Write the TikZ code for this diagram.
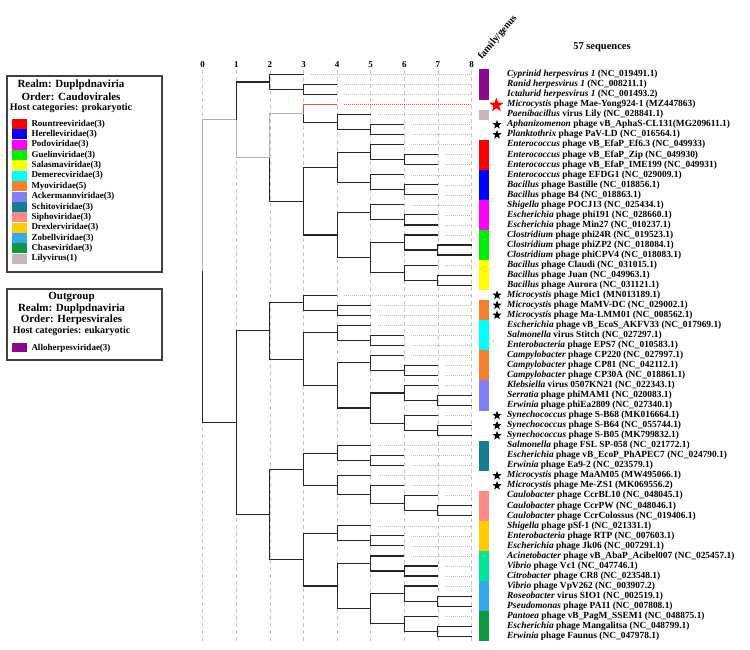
\documentclass[tikz,border=0pt]{standalone}
\usepackage{fontspec}
\setmainfont{Liberation Serif}
\usetikzlibrary{shapes.geometric}

\definecolor{herpes}{HTML}{8B0A8B}
\definecolor{rount}{HTML}{FF0000}
\definecolor{herelle}{HTML}{0000FF}
\definecolor{podo}{HTML}{FF00FF}
\definecolor{guelin}{HTML}{00EE00}
\definecolor{salasma}{HTML}{FFFF00}
\definecolor{demerec}{HTML}{00FFFF}
\definecolor{myo}{HTML}{F57F2A}
\definecolor{ackermann}{HTML}{8080FF}
\definecolor{schito}{HTML}{167E92}
\definecolor{sipho}{HTML}{FF8888}
\definecolor{drexler}{HTML}{FFCC00}
\definecolor{zobell}{HTML}{33AAEE}
\definecolor{chase}{HTML}{109A40}
\definecolor{lily}{HTML}{C9B7B7}
\definecolor{mint}{HTML}{00E39A}
\definecolor{pathgray}{HTML}{B0B0B0}
\definecolor{pathred}{HTML}{F04A3A}

\newcommand{\fsize}[1]{\fontsize{#1}{#1}\selectfont\bfseries}

\begin{document}
\begin{tikzpicture}[x=1pt,y=-1pt,
    branch/.style={black!85,line width=1.1pt},
    tipline/.style={pathgray!80,line width=0.6pt,dash pattern=on 1pt off 1pt},
    gridline/.style={black!22,line width=0.5pt,dash pattern=on 4pt off 3pt},
    axislabel/.style={font=\fsize{9},inner sep=0},
    leaflabel/.style={font=\fsize{9.4},anchor=west,inner sep=0},
    smallstar/.style={star,star points=5,star point ratio=2.4,fill=black,inner sep=0,minimum size=9.5pt},
    legendbox/.style={black!75,line width=1.1pt},
    legendtitle/.style={font=\fsize{11},inner sep=0},
    legendentry/.style={font=\fsize{9},anchor=west,inner sep=0}]

\useasboundingbox (0,0) rectangle (750,649);

% legend, prokaryotic hosts

\draw [legendbox] (7,76) rectangle (162,272);
\node (legA1) [legendtitle] at (71,85) {Realm: Duplpdnaviria};
\node (legA2) [legendtitle] at (71,96.5) {Order: Caudovirales};
\node (legA3) [legendtitle,font=\fsize{10}] at (71,108) {Host categories: prokaryotic};

\foreach \c/\txt [count=\k from 0] in {
  rount/Rountreeviridae(3),
  herelle/Herelleviridae(3),
  podo/Podoviridae(3),
  guelin/Guelinviridae(3),
  salasma/Salasmaviridae(3),
  demerec/Demerecviridae(3),
  myo/Myoviridae(5),
  ackermann/Ackermannviridae(3),
  schito/Schitoviridae(3),
  sipho/Siphoviridae(3),
  drexler/Drexlerviridae(3),
  zobell/Zobellviridae(3),
  chase/Chaseviridae(3),
  lily/Lilyvirus(1)}
{
    \fill [\c] (12,124+10.36*\k-5) rectangle (26.7,124+10.36*\k+5);
    \node (legB\k) [legendentry] at (31.3,124+10.36*\k) {\txt};
}

% legend, outgroup

\draw [legendbox] (7,289) rectangle (162,360);
\node (legC1) [legendtitle] at (71.5,297) {Outgroup};
\node (legC2) [legendtitle] at (71.5,308.5) {Realm: Duplpdnaviria};
\node (legC3) [legendtitle] at (71.5,320) {Order: Herpesvirales};
\node (legC4) [legendtitle,font=\fsize{10}] at (71.5,331.5) {Host categories: eukaryotic};
\fill [herpes] (12,343.3) rectangle (26.7,352.3);
\node (legC5) [legendentry] at (31.3,348) {Alloherpesviridae(3)};

% headings

\node (title) [font=\fsize{10.5}] at (602,47) {57 sequences};
\node (famgen) [font=\fsize{10},rotate=50,anchor=base west,inner sep=0] at (482,60) {family/genus};

% tree, x = distance, y = leaf number

\begin{scope}[shift={(202.7,74.5)},x=33.6pt,y=-10.03pt]

\foreach \d in {0,...,8}
{
    \draw [gridline] (\d,-0.45) -- (\d,56.5);
    \node (ax\d) [axislabel] at (\d,-0.98) {\d};
}

\foreach \d [count=\n from 0] in {3,4,4,4,5,6,6,6,7,7,6,7,7,6,7,7,7,8,8,7,8,8,
                                  4,5,5,5,6,6,6,7,7,7,8,8,7,8,8,5,6,6,5,6,7,8,8,
                                  5,6,6,6,7,7,7,8,8,7,8,8}
{
    \coordinate (l\n) at (\d,\n);
    \coordinate (e\n) at (8,\n);
    \ifnum\d<8 \draw [tipline] ([xshift=7pt]l\n) -- (e\n); \fi
}

\foreach \name/\d/\y in {
  h/2/0.75, h12/3/1.5, s56/5/5.5, s4/4/4.75, s3/3/3.875,
  e89/6/8.5, e7/5/7.75, b1112/6/11.5, b10/5/10.75, eb/4/9.25,
  p1415/6/14.5, p13/5/13.75, c1718/7/17.5, c16/6/16.75,
  y2021/7/20.5, y19/6/19.75, cy/5/18.25, pc/4/16, mid/3/12.625,
  s2/2/8.25, top/1/4.5,
  m2324/4/23.5, m22/3/22.75, d2627/5/26.5, d25/4/25.75,
  cp2930/6/29.5, cp28/5/28.75, k3233/7/32.5, k31/6/31.75,
  sy3536/7/35.5, sy34/6/34.75, ks/5/33.25, cpks/4/31, dk/3/28.375,
  u2/2/25.5625,
  sa3839/5/38.5, sa37/4/37.75, cc4344/7/43.5, cc42/6/42.75,
  me41/5/41.875, me40/4/40.9375, sm/3/39.34375,
  dr4647/5/46.5, dr45/4/45.75, v4950/6/49.5, v48/5/48.75,
  r5253/7/52.5, r51/6/51.75, g5556/7/55.5, g54/6/54.75,
  rg/5/53.25, vrg/4/51, dv/3/48.375, lowB/2/43.859,
  bot/1/34.711, root/0/19.605}
    \coordinate (\name) at (\d,\y);

\foreach \p/\c in {
  h/l0, h/h12, h12/l1, h12/l2, top/h,
  s3/s4, s4/l4, s4/s56, s56/l5, s56/l6,
  s2/mid, mid/eb, mid/pc, eb/e7, eb/b10, e7/l7, e7/e89, e89/l8, e89/l9,
  b10/l10, b10/b1112, b1112/l11, b1112/l12,
  pc/p13, pc/cy, p13/l13, p13/p1415, p1415/l14, p1415/l15,
  cy/c16, cy/y19, c16/l16, c16/c1718, c1718/l17, c1718/l18,
  y19/l19, y19/y2021, y2021/l20, y2021/l21,
  root/bot, bot/u2, bot/lowB,
  u2/m22, u2/dk, m22/l22, m22/m2324, m2324/l23, m2324/l24,
  dk/d25, dk/cpks, d25/l25, d25/d2627, d2627/l26, d2627/l27,
  cpks/cp28, cpks/ks, cp28/l28, cp28/cp2930, cp2930/l29, cp2930/l30,
  ks/k31, ks/sy34, k31/l31, k31/k3233, k3233/l32, k3233/l33,
  sy34/l34, sy34/sy3536, sy3536/l35, sy3536/l36,
  lowB/sm, lowB/dv, sm/sa37, sm/me40, sa37/l37, sa37/sa3839,
  sa3839/l38, sa3839/l39, me40/l40, me40/me41, me41/l41, me41/cc42,
  cc42/l42, cc42/cc4344, cc4344/l43, cc4344/l44,
  dv/dr45, dv/vrg, dr45/l45, dr45/dr4647, dr4647/l46, dr4647/l47,
  vrg/v48, vrg/rg, v48/l48, v48/v4950, v4950/l49, v4950/l50,
  rg/r51, rg/g54, r51/l51, r51/r5253, r5253/l52, r5253/l53,
  g54/l54, g54/g5556, g5556/l55, g5556/l56}
    \draw [branch] (\p) |- (\c);

% path to the new phage

\draw [branch,pathgray] (root) |- (top);
\draw [branch,pathgray] (top) |- (s2);
\draw [branch,pathgray] (s2) |- (s3);
\draw [branch,pathred] (s3) |- (l3);
\draw [tipline,pathred] ([xshift=7pt]l3) -- (e3);

% family/genus strip

\foreach \a/\b/\c in {0/2/herpes, 4/4/lily, 7/9/rount, 10/12/herelle, 13/15/podo,
                      16/18/guelin, 19/21/salasma, 23/24/myo, 25/27/demerec,
                      28/30/myo, 31/33/ackermann, 37/39/schito, 42/44/sipho,
                      45/47/drexler, 48/50/mint, 51/53/zobell, 54/56/chase}
    \fill [\c] (8.223,\a-0.5) rectangle (8.521,\b+0.5);

\foreach \n in {5,6,22,23,24,34,35,36,40,41}
    \node (st\n) [smallstar] at (8.76,\n) {};
\node (st3) [smallstar,fill=red,minimum size=15pt] at (8.74,3.05) {};

\foreach \g/\r [count=\n from 0] in {
  Cyprinid herpesvirus 1/(NC\_019491.1),
  Ranid herpesvirus 1/(NC\_008211.1),
  Ictalurid herpesvirus 1/(NC\_001493.2),
  Microcystis/phage Mae-Yong924-1 (MZ447863),
  Paenibacillus/virus Lily (NC\_028841.1),
  Aphanizomenon/phage vB\_AphaS-CL131(MG209611.1),
  Planktothrix/phage PaV-LD (NC\_016564.1),
  Enterococcus/phage vB\_EfaP\_Ef6.3 (NC\_049933),
  Enterococcus/phage vB\_EfaP\_Zip (NC\_049930),
  Enterococcus/phage vB\_EfaP\_IME199 (NC\_049931),
  Enterococcus/phage EFDG1 (NC\_029009.1),
  Bacillus/phage Bastille (NC\_018856.1),
  Bacillus/phage B4 (NC\_018863.1),
  Shigella/phage POCJ13 (NC\_025434.1),
  Escherichia/phage phi191 (NC\_028660.1),
  Escherichia/phage Min27 (NC\_010237.1),
  Clostridium/phage phi24R (NC\_019523.1),
  Clostridium/phage phiZP2 (NC\_018084.1),
  Clostridium/phage phiCPV4 (NC\_018083.1),
  Bacillus/phage Claudi (NC\_031015.1),
  Bacillus/phage Juan (NC\_049963.1),
  Bacillus/phage Aurora (NC\_031121.1),
  Microcystis/phage Mic1 (MN013189.1),
  Microcystis/phage MaMV-DC (NC\_029002.1),
  Microcystis/phage Ma-LMM01 (NC\_008562.1),
  Escherichia/phage vB\_EcoS\_AKFV33 (NC\_017969.1),
  Salmonella/virus Stitch (NC\_027297.1),
  Enterobacteria/phage EPS7 (NC\_010583.1),
  Campylobacter/phage CP220 (NC\_027997.1),
  Campylobacter/phage CP81 (NC\_042112.1),
  Campylobacter/phage CP30A (NC\_018861.1),
  Klebsiella/virus 0507KN21 (NC\_022343.1),
  Serratia/phage phiMAM1 (NC\_020083.1),
  Erwinia/phage phiEa2809 (NC\_027340.1),
  Synechococcus/phage S-B68 (MK016664.1),
  Synechococcus/phage S-B64 (NC\_055744.1),
  Synechococcus/phage S-B05 (MK799832.1),
  Salmonella/phage FSL SP-058 (NC\_021772.1),
  Escherichia/phage vB\_EcoP\_PhAPEC7 (NC\_024790.1),
  Erwinia/phage Ea9-2 (NC\_023579.1),
  Microcystis/phage MaAM05 (MW495066.1),
  Microcystis/phage Me-ZS1 (MK069556.2),
  Caulobacter/phage CcrBL10 (NC\_048045.1),
  Caulobacter/phage CcrPW (NC\_048046.1),
  Caulobacter/phage CcrColossus (NC\_019406.1),
  Shigella/phage pSf-1 (NC\_021331.1),
  Enterobacteria/phage RTP (NC\_007603.1),
  Escherichia/phage Jk06 (NC\_007291.1),
  Acinetobacter/phage vB\_AbaP\_Acibel007 (NC\_025457.1),
  Vibrio/phage Vc1 (NC\_047746.1),
  Citrobacter/phage CR8 (NC\_023548.1),
  Vibrio/phage VpV262 (NC\_003907.2),
  Roseobacter/virus SIO1 (NC\_002519.1),
  Pseudomonas/phage PA11 (NC\_007808.1),
  Pantoea/phage vB\_PagM\_SSEM1 (NC\_048875.1),
  Escherichia/phage Mangalitsa (NC\_048799.1),
  Erwinia/phage Faunus (NC\_047978.1)}
    \node (t\n) [leaflabel] at (9.057,\n) {\textit{\g} \r};

\end{scope}

\end{tikzpicture}
\end{document}
